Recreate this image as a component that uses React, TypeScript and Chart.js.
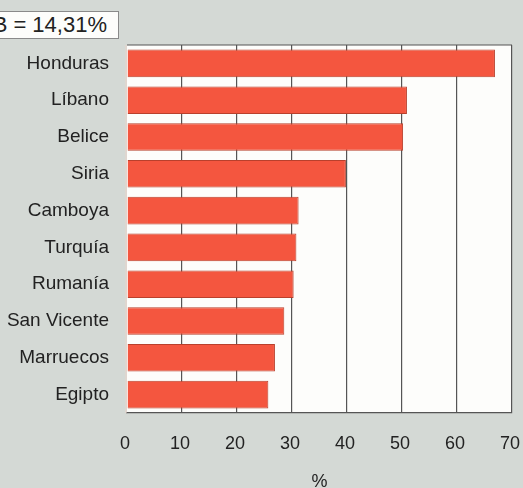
import React, { useEffect, useRef } from "react";
import { Chart, registerables } from "chart.js";

Chart.register(...registerables);

const countries = ["Honduras", "Líbano", "Belice", "Siria", "Camboya", "Turquía", "Rumanía", "San Vicente", "Marruecos", "Egipto"];
const values = [66.9, 50.9, 50.2, 39.8, 31.2, 30.8, 30.3, 28.6, 26.9, 25.7];
const axisTitle = "%";
const boxLabel = "B = 14,31%";

const FONT = "'Liberation Sans', Arial, Helvetica, sans-serif";

const framePlugin = {
  id: "frame",
  beforeDraw(chart: any) {
    const { ctx, chartArea } = chart;
    ctx.save();
    ctx.fillStyle = "#fdfdfb";
    ctx.fillRect(chartArea.left, chartArea.top, chartArea.right - chartArea.left, chartArea.bottom - chartArea.top);
    ctx.restore();
  },
  beforeDatasetsDraw(chart: any) {
    const { ctx, chartArea } = chart;
    ctx.save();
    ctx.strokeStyle = "#555";
    ctx.lineWidth = 1.2;
    ctx.beginPath();
    ctx.moveTo(chartArea.left, chartArea.top);
    ctx.lineTo(chartArea.right, chartArea.top);
    ctx.stroke();
    ctx.strokeStyle = "#e6d4cc";
    ctx.beginPath();
    ctx.moveTo(chartArea.left - 1, chartArea.top);
    ctx.lineTo(chartArea.left - 1, chartArea.bottom);
    ctx.stroke();
    ctx.restore();
  },
};

export default function App() {
  const ref = useRef<HTMLCanvasElement>(null);

  useEffect(() => {
    if (!ref.current) return;
    const chart = new Chart(ref.current, {
      type: "bar",
      data: {
        labels: countries,
        datasets: [
          {
            data: values,
            backgroundColor: "#f4563f",
            borderColor: "#b9402c",
            borderWidth: 1,
            barPercentage: 0.75,
            categoryPercentage: 1,
          },
        ],
      },
      options: {
        indexAxis: "y",
        responsive: false,
        maintainAspectRatio: false,
        animation: false,
        layout: { padding: { top: 45, right: 11, left: 0, bottom: 0 } },
        plugins: { legend: { display: false }, tooltip: { enabled: false } },
        scales: {
          x: {
            min: 0,
            max: 70,
            ticks: { stepSize: 10, color: "#222", font: { family: FONT, size: 18 }, padding: 20, labelOffset: -2 },
            grid: {
              color: (c: any) => (c.tick && c.tick.value === 0 ? "rgba(0,0,0,0)" : "#555"),
              lineWidth: 1.2,
              drawTicks: false,
            },
            border: { display: true, color: "#555", width: 1.2 },
            title: { display: true, text: axisTitle, color: "#222", font: { family: FONT, size: 18 }, padding: { top: 0, bottom: -5 } },
            afterFit: (s: any) => {
              s.height = 75;
              s.paddingLeft = 0;
              s.paddingRight = 0;
            },
          },
          y: {
            ticks: { color: "#222", font: { family: FONT, size: 19 }, padding: 18 },
            grid: { display: false, drawTicks: false },
            border: { display: false },
            afterFit: (s: any) => {
              s.width = 127;
              s.paddingTop = 0;
              s.paddingBottom = 0;
            },
          },
        },
      },
      plugins: [framePlugin],
    });
    return () => chart.destroy();
  }, []);

  return (
    <div style={{ position: "fixed", left: 0, top: 0, width: 523, height: 488, background: "#d4d9d5", overflow: "hidden" }}>
      <canvas ref={ref} width={523} height={488} style={{ position: "absolute", left: 0, top: 0 }} />
      <div
        style={{
          position: "absolute",
          left: -40,
          top: 11,
          width: 159,
          height: 28,
          background: "#fdfdfb",
          border: "1px solid #8a8a8a",
          boxSizing: "border-box",
          fontFamily: FONT,
          fontSize: 22,
          color: "#222",
          lineHeight: "26px",
          textAlign: "right",
          paddingRight: 11,
          whiteSpace: "nowrap",
        }}
      >
        {boxLabel}
      </div>
    </div>
  );
}
